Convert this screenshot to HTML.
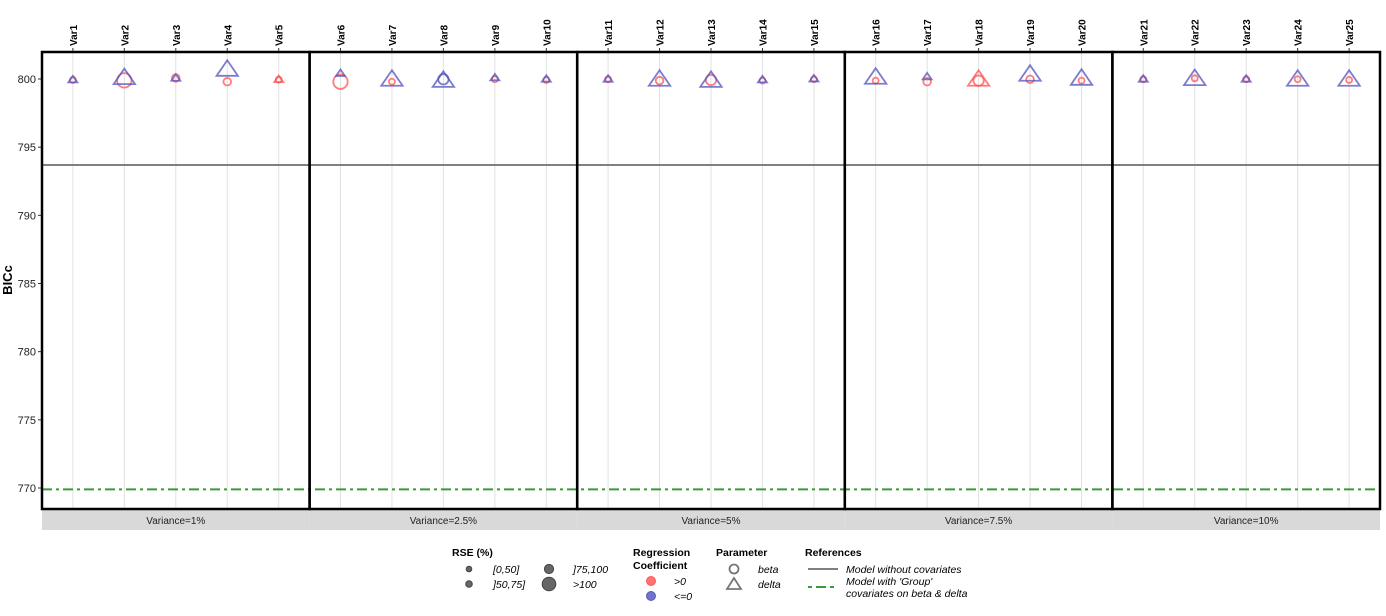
<!DOCTYPE html>
<html><head><meta charset="utf-8"><style>
body{margin:0;background:#fff}
svg{display:block;font-family:"Liberation Sans",Arial,sans-serif}
</style></head><body>
<svg id="c" width="1386" height="616" xmlns="http://www.w3.org/2000/svg"></svg>
<script>
const categories=["Var1","Var2","Var3","Var4","Var5","Var6","Var7","Var8","Var9","Var10","Var11","Var12","Var13","Var14","Var15","Var16","Var17","Var18","Var19","Var20","Var21","Var22","Var23","Var24","Var25"];
const panels=["Variance=1%","Variance=2.5%","Variance=5%","Variance=7.5%","Variance=10%"];
const betaValues=[799.93,799.9,800.08,799.8,799.95,799.8,799.8,799.98,799.98,799.93,799.98,799.88,799.93,799.88,799.98,799.88,799.8,799.88,799.98,799.88,799.98,800.05,799.98,799.98,799.93];
const betaSign=[1,1,1,1,1,1,1,0,1,1,1,1,1,1,1,1,1,1,1,1,1,1,1,1,1];
const betaSize=[0,3,1,1,0,3,0,2,0,0,0,1,2,0,0,0,1,2,1,0,0,0,0,0,0];
const deltaValues=[799.93,800.05,800.05,800.66,799.95,800.4,799.93,799.85,800.08,799.98,799.98,799.93,799.85,799.93,800.0,800.08,800.15,799.93,800.3,800.0,799.98,799.98,799.98,799.93,799.93];
const deltaSign=[0,0,0,0,1,0,0,0,0,0,0,0,0,0,0,0,0,1,0,0,0,0,0,0,0];
const deltaSize=[0,3,0,3,0,0,3,3,0,0,0,3,3,0,0,3,0,3,3,3,0,3,0,3,3];
const yTicks=[770,775,780,785,790,795,800];
const refNoCov=793.69, refGroup=769.9;

const NS="http://www.w3.org/2000/svg";
const svg=document.getElementById('c');
function mk(t,a,p){const e=document.createElementNS(NS,t);for(const k in a)e.setAttribute(k,a[k]);(p||svg).appendChild(e);return e;}
const plotTop=52,plotBot=509,x0=42,pw=(1380-42)/5;
const yMin=768.46,yMax=801.98;
const yS=v=>plotBot-(v-yMin)/(yMax-yMin)*(plotBot-plotTop);
const band=pw/5.2;
const xS=i=>x0+Math.floor(i/5)*pw+band*(0.6+i%5);
const rad=[3,3.8,5.2,7.2];
const RED="rgba(255,80,80,0.75)",BLUE="rgba(80,80,190,0.75)";

yTicks.forEach(t=>{
 let l=mk('line',{x1:38,x2:42,y1:yS(t),y2:yS(t),stroke:'#333'});
 
 
 let tx=mk('text',{x:36,y:yS(t)+4,'text-anchor':'end','font-size':11,fill:'#222'});tx.textContent=t;
 
 
});
let yt=mk('text',{x:12,y:280,'text-anchor':'middle','font-size':13,'font-weight':'bold',transform:'rotate(-90 12 280)'});yt.textContent='BICc';



panels.forEach((p,k)=>{
 const px=x0+k*pw;
 let s=mk('rect',{x:px,y:510,width:pw,height:20,fill:'#d9d9d9'});
 
 
 let st=mk('text',{x:px+pw/2,y:524,'text-anchor':'middle','font-size':10,fill:'#222'});st.textContent=p;
 
 
});
categories.forEach((c,i)=>{
 let g=mk('line',{x1:xS(i),x2:xS(i),y1:plotTop,y2:plotBot,stroke:'#e2e2e2'});
 
 
 mk('line',{x1:xS(i),x2:xS(i),y1:48,y2:52,stroke:'#333'});
 let t=mk('text',{x:xS(i)+4,y:46,'font-size':10,'font-weight':'bold',transform:`rotate(-90 ${xS(i)+4} 46)`});t.textContent=c;
 
 
});
let r1=mk('line',{x1:x0,x2:1380,y1:yS(refNoCov),y2:yS(refNoCov),stroke:'#808080','stroke-width':2});


let r2=mk('line',{x1:x0,x2:1380,y1:yS(refGroup),y2:yS(refGroup),stroke:'#3a9a3a','stroke-width':2,'stroke-dasharray':'10,4,3,4'});


categories.forEach((c,i)=>{
 let r=rad[betaSize[i]];
 let ci=mk('circle',{cx:xS(i),cy:yS(betaValues[i]),r:r,fill:'none',stroke:betaSign[i]?RED:BLUE,'stroke-width':1.8});
 
 
 let h=rad[deltaSize[i]]*1.35,cx=xS(i),cy=yS(deltaValues[i]);
 let tr=mk('polygon',{points:`${cx},${cy-h} ${cx-h*1.1},${cy+h*0.6} ${cx+h*1.1},${cy+h*0.6}`,fill:'none',stroke:deltaSign[i]?RED:BLUE,'stroke-width':1.8});
 
 
});
panels.forEach((p,k)=>{
 let b=mk('rect',{x:x0+k*pw,y:plotTop,width:pw,height:plotBot-plotTop,fill:'none',stroke:'#000','stroke-width':2.5});
 
 
});
function T(s,xx,yy,o){let t=mk('text',Object.assign({x:xx,y:yy,'font-size':10.5},o||{}));t.textContent=s;return t;}
T('RSE (%)',452,556,{'font-weight':'bold'});
[[469,569,2.8,'[0,50]',493],[469,584,3.3,']50,75]',493],[549,569,4.6,']75,100',573],[549,584,6.8,'>100',573]].forEach(a=>{
 let c=mk('circle',{cx:a[0],cy:a[1],r:a[2],fill:'#666',stroke:'#444','stroke-width':1});
 
 
 T(a[3],a[4],a[1]+4,{'font-style':'italic'});
});
T('Regression',633,556,{'font-weight':'bold'});T('Coefficient',633,569,{'font-weight':'bold'});
mk('circle',{cx:651,cy:581,r:4.5,fill:'rgba(255,80,80,0.8)',stroke:'rgba(255,80,80,0.9)'});T('>0',674,585,{'font-style':'italic'});
mk('circle',{cx:651,cy:596,r:4.5,fill:'rgba(80,80,190,0.8)',stroke:'rgba(80,80,190,0.9)'});T('<=0',674,600,{'font-style':'italic'});
T('Parameter',716,556,{'font-weight':'bold'});
mk('circle',{cx:734,cy:569,r:4.5,fill:'none',stroke:'#777','stroke-width':1.8});T('beta',758,573,{'font-style':'italic'});
mk('polygon',{points:'734,578 727,589 741,589',fill:'none',stroke:'#777','stroke-width':1.8});T('delta',758,588,{'font-style':'italic'});
T('References',805,556,{'font-weight':'bold'});
mk('line',{x1:808,x2:838,y1:569,y2:569,stroke:'#808080','stroke-width':2});T('Model without covariates',846,573,{'font-style':'italic'});
mk('line',{x1:808,x2:838,y1:587,y2:587,stroke:'#3a9a3a','stroke-width':2,'stroke-dasharray':'4,4,10,4'});
T("Model with 'Group'",846,585,{'font-style':'italic'});T('covariates on beta & delta',846,597,{'font-style':'italic'});
</script>
</body></html>
